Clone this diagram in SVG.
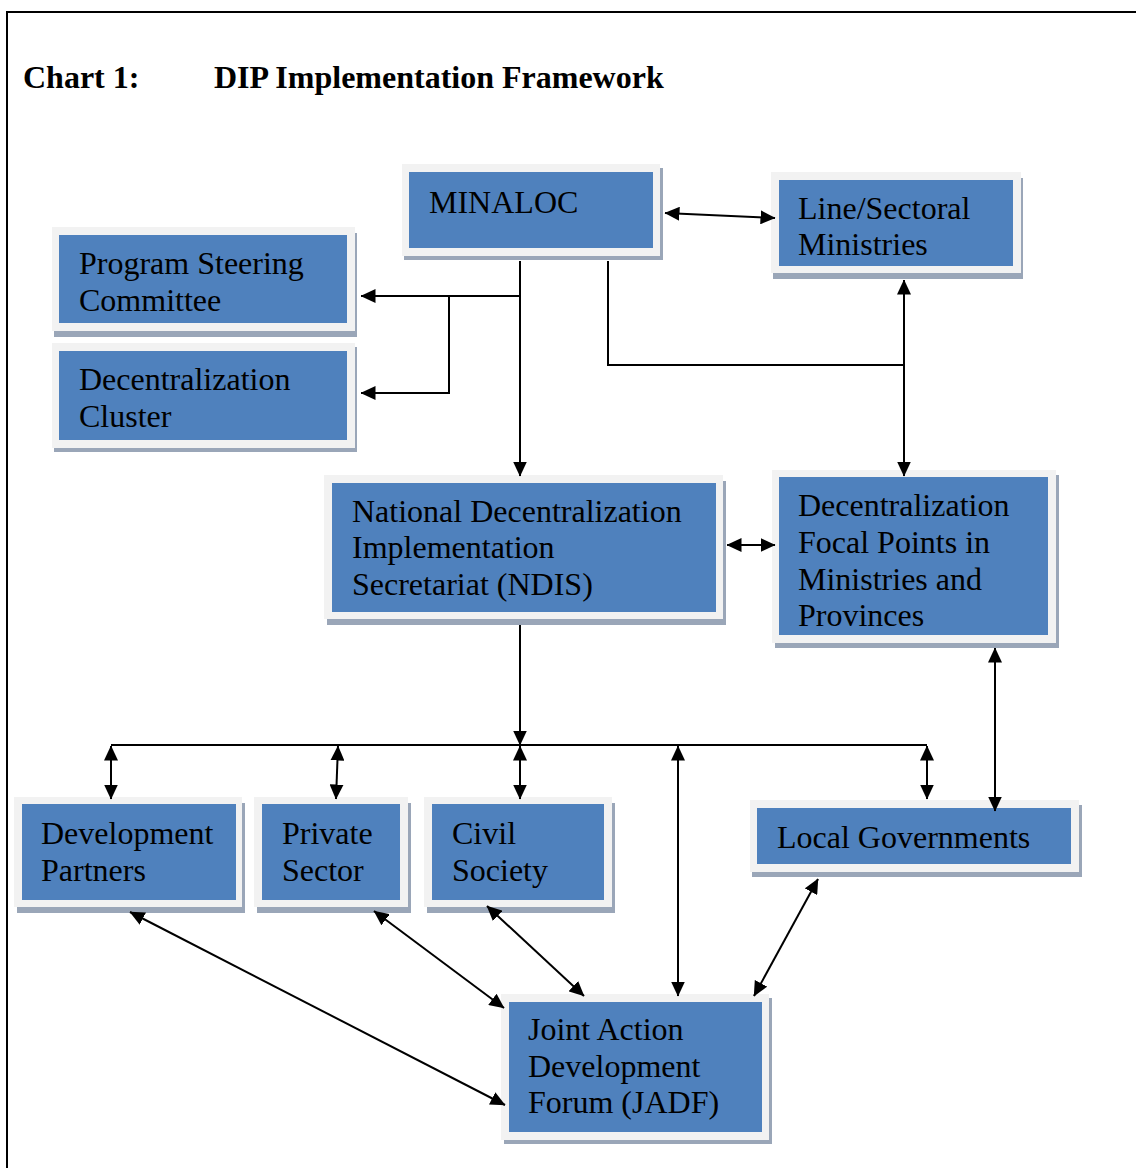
<svg xmlns="http://www.w3.org/2000/svg" width="1136" height="1168" viewBox="0 0 1136 1168">
<style>
.sh{fill:#9aa6b8}
.fr{fill:#f2f2f2}
.in{fill:#4f81bd}
.t{font-family:"Liberation Serif","Times New Roman",serif;font-size:32px;fill:#000}
.ti{font-family:"Liberation Serif","Times New Roman",serif;font-size:32px;font-weight:bold;fill:#000}
.c{fill:none;stroke:#000;stroke-width:2}
.a{marker-end:url(#ah)}
.aa{marker-start:url(#ah);marker-end:url(#ah)}
</style>
<defs>
<marker id="ah" viewBox="0 0 15 14" refX="14.5" refY="7" markerWidth="15" markerHeight="14" markerUnits="userSpaceOnUse" orient="auto-start-reverse"><path d="M0,0 L15,7 L0,14 z" fill="#000"/></marker>
</defs>
<rect x="0" y="0" width="1136" height="1168" fill="#fff"/>
<rect x="7" y="12" width="1150" height="1180" fill="none" stroke="#000" stroke-width="2"/>
<g id="title">
<text class="ti" x="23" y="88">Chart 1:</text>
<text class="ti" x="214" y="88">DIP Implementation Framework</text>
</g>
<g id="minaloc">
<rect class="sh" x="404" y="168" width="259" height="92"/>
<rect class="fr" x="402" y="164" width="258" height="92"/>
<rect class="in" x="409" y="172" width="244" height="76"/>
<text class="t" x="429" y="213">MINALOC</text>
</g>
<g id="line-sectoral">
<rect class="sh" x="773" y="178" width="250" height="101"/>
<rect class="fr" x="771" y="172" width="250" height="101"/>
<rect class="in" x="779" y="180" width="234" height="86"/>
<text class="t" x="798" y="219">Line/Sectoral</text>
<text class="t" x="798" y="255">Ministries</text>
</g>
<g id="psc">
<rect class="sh" x="54" y="233" width="303" height="104"/>
<rect class="fr" x="52" y="227" width="303" height="104"/>
<rect class="in" x="59" y="235" width="288" height="88"/>
<text class="t" x="79" y="274">Program Steering</text>
<text class="t" x="79" y="311">Committee</text>
</g>
<g id="dcluster">
<rect class="sh" x="54" y="347" width="303" height="105"/>
<rect class="fr" x="52" y="343" width="303" height="105"/>
<rect class="in" x="59" y="351" width="288" height="89"/>
<text class="t" x="79" y="390">Decentralization</text>
<text class="t" x="79" y="427">Cluster</text>
</g>
<g id="ndis">
<rect class="sh" x="327" y="481" width="399" height="144"/>
<rect class="fr" x="324" y="475" width="399" height="144"/>
<rect class="in" x="332" y="483" width="384" height="129"/>
<text class="t" x="352" y="522">National Decentralization</text>
<text class="t" x="352" y="558">Implementation</text>
<text class="t" x="352" y="595">Secretariat (NDIS)</text>
</g>
<g id="focal">
<rect class="sh" x="775" y="475" width="284" height="173"/>
<rect class="fr" x="772" y="470" width="284" height="173"/>
<rect class="in" x="779" y="477" width="269" height="158"/>
<text class="t" x="798" y="516">Decentralization</text>
<text class="t" x="798" y="553">Focal Points in</text>
<text class="t" x="798" y="590">Ministries and</text>
<text class="t" x="798" y="626">Provinces</text>
</g>
<g id="dev-partners">
<rect class="sh" x="17" y="803" width="228" height="110"/>
<rect class="fr" x="14" y="797" width="228" height="110"/>
<rect class="in" x="22" y="804" width="214" height="96"/>
<text class="t" x="41" y="844">Development</text>
<text class="t" x="41" y="881">Partners</text>
</g>
<g id="private-sector">
<rect class="sh" x="257" y="803" width="154" height="110"/>
<rect class="fr" x="254" y="797" width="154" height="110"/>
<rect class="in" x="262" y="804" width="138" height="96"/>
<text class="t" x="282" y="844">Private</text>
<text class="t" x="282" y="881">Sector</text>
</g>
<g id="civil-society">
<rect class="sh" x="427" y="803" width="188" height="110"/>
<rect class="fr" x="424" y="797" width="188" height="110"/>
<rect class="in" x="432" y="804" width="172" height="96"/>
<text class="t" x="452" y="844">Civil</text>
<text class="t" x="452" y="881">Society</text>
</g>
<g id="local-gov">
<rect class="sh" x="752" y="805" width="330" height="72"/>
<rect class="fr" x="750" y="800" width="329" height="72"/>
<rect class="in" x="757" y="808" width="314" height="56"/>
<text class="t" x="777" y="848">Local Governments</text>
</g>
<g id="jadf">
<rect class="sh" x="504" y="998" width="268" height="146"/>
<rect class="fr" x="501" y="994" width="268" height="146"/>
<rect class="in" x="509" y="1002" width="253" height="130"/>
<text class="t" x="528" y="1040">Joint Action</text>
<text class="t" x="528" y="1077">Development</text>
<text class="t" x="528" y="1113">Forum (JADF)</text>
</g>
<g id="connectors">
<line class="c aa" x1="665" y1="213" x2="775" y2="218"/>
<line class="c a" x1="520" y1="261" x2="520" y2="476"/>
<line class="c a" x1="520" y1="296" x2="361" y2="296"/>
<polyline class="c a" points="449,296 449,393 361,393"/>
<polyline class="c" points="608,261 608,365 904,365"/>
<line class="c aa" x1="904" y1="280" x2="904" y2="476"/>
<line class="c aa" x1="727" y1="545" x2="775" y2="545"/>
<line class="c a" x1="520" y1="625" x2="520" y2="745"/>
<line class="c" x1="111" y1="745" x2="927" y2="745"/>
<line class="c aa" x1="111" y1="746" x2="111" y2="799"/>
<line class="c aa" x1="338" y1="746" x2="336" y2="799"/>
<line class="c aa" x1="520" y1="746" x2="520" y2="799"/>
<line class="c aa" x1="927" y1="746" x2="927" y2="799"/>
<line class="c aa" x1="678" y1="746" x2="678" y2="996"/>
<line class="c aa" x1="995" y1="648" x2="995" y2="811"/>
<line class="c aa" x1="130" y1="912" x2="505" y2="1105"/>
<line class="c aa" x1="374" y1="911" x2="504" y2="1008"/>
<line class="c aa" x1="487" y1="906" x2="584" y2="996"/>
<line class="c aa" x1="818" y1="879" x2="754" y2="996"/>
</g>
</svg>
